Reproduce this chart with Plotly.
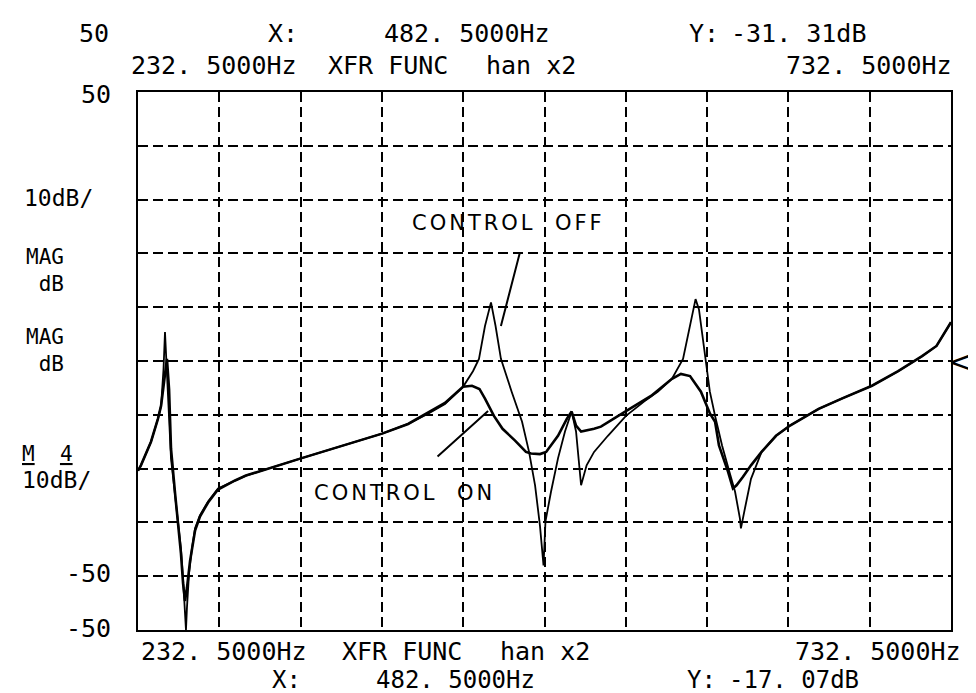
import plotly.graph_objects as go

# ---------------- data ----------------
freq_off = [232.5, 234.3, 240.5, 244.8, 246.7, 248.2, 249.1, 250.3, 251.6, 252.8,
            255.3, 257.1, 258.9, 260.2, 261.4, 262.0, 262.6, 263.9, 265.7, 267.6,
            270.6, 275.6, 281.7, 292.2, 298.9, 332.7, 357.3, 382.6, 398.6, 410.9,
            421.3, 432.4, 438.5, 442.2, 445.9, 449.6, 452.4, 455.7, 462.3, 468.7,
            473.0, 476.7, 479.7, 481.9, 483.1, 486.5, 490.8, 495.1, 499.2, 501.9,
            505.0, 508.4, 513.0, 521.5, 532.6, 543.5, 552.3, 560.9, 567.7, 572.0,
            575.4, 577.5, 580.8, 584.2, 587.4, 591.7, 596.2, 599.7, 602.7, 603.3,
            606.1, 609.5, 616.0, 624.9, 633.5, 651.1, 666.0, 683.9, 700.0, 714.7,
            723.6, 732.5]
mag_off = [-20.4, -19.4, -15.0, -10.7, -8.3, -1.5, 5.4, -2.4, -10.7, -18.1,
           -25.0, -29.8, -34.8, -40.4, -45.9, -50.0, -45.9, -39.4, -34.8, -31.1,
           -28.7, -26.1, -23.7, -22.2, -21.3, -18.1, -15.9, -13.5, -11.7, -9.8,
           -8.0, -4.8, -1.9, 0.4, 6.5, 10.9, 6.5, 0.4, -5.7, -11.3,
           -16.9, -23.1, -30.6, -38.0, -29.8, -24.3, -18.1, -13.1, -9.4, -13.1,
           -23.1, -19.4, -16.9, -13.9, -10.2, -7.6, -5.7, -3.3, 0.4, 6.5,
           11.5, 9.6, 1.7, -5.7, -10.2, -15.7, -20.6, -24.3, -29.3, -31.1,
           -26.9, -21.9, -16.9, -13.9, -12.0, -8.9, -6.9, -4.6, -1.9, 0.9,
           2.8, 7.2]

freq_on = [232.5, 234.3, 240.5, 244.8, 246.7, 248.5, 250.3, 251.6, 252.8, 255.3,
           257.1, 258.9, 260.2, 261.4, 262.6, 264.5, 267.6, 270.6, 275.6, 281.7,
           292.2, 298.9, 332.7, 357.3, 382.6, 398.6, 410.9, 421.3, 432.4, 437.9,
           442.5, 445.9, 451.4, 456.7, 464.4, 471.1, 474.2, 479.7, 483.5, 490.8,
           496.3, 499.2, 501.9, 505.0, 513.0, 517.2, 532.6, 548.0, 560.9, 566.4,
           572.0, 578.7, 584.3, 587.4, 589.8, 595.4, 598.4, 600.6, 604.6, 609.5,
           616.0, 624.9, 633.5, 651.1, 666.0, 683.9, 700.0, 714.7, 723.6, 732.5]
mag_on = [-20.4, -19.4, -15.0, -10.7, -8.3, -4.3, 0.4, -5.2, -16.3, -24.6,
          -29.6, -35.7, -41.3, -44.6, -42.2, -37.2, -31.5, -28.9, -26.3, -23.9,
          -22.2, -21.3, -18.1, -15.9, -13.5, -11.7, -9.6, -7.8, -4.8, -4.6,
          -5.2, -7.0, -10.2, -12.6, -14.8, -16.9, -17.2, -17.3, -16.9, -13.9,
          -10.7, -9.4, -12.0, -13.1, -12.6, -12.2, -9.3, -6.5, -3.3, -2.4,
          -2.8, -5.7, -9.8, -11.3, -15.7, -20.6, -23.7, -23.1, -21.5, -19.4,
          -16.9, -13.9, -12.0, -8.9, -6.9, -4.6, -1.9, 0.9, 2.8, 7.2]

f_start, f_stop, f_step = 232.5, 732.5, 50
db_top, db_bottom, db_step = 50, -50, 10

range_labels = ["232. 5000Hz", "XFR FUNC", "han x2", "732. 5000Hz"]
cursor_top = ["X:", "482. 5000Hz", "Y:", "-31. 31dB"]
cursor_bottom = ["X:", "482. 5000Hz", "Y:", "-17. 07dB"]
side_labels = ["10dB/", "MAG<br> dB", "MAG<br> dB",
               '<u>M</u>  <u>4</u><br><span style="font-size:23px">10dB/</span>']
curve_labels = ["CONTROL  OFF", "CONTROL  ON"]

# ---------------- figure ----------------
W, H = 976, 693
L, R, T, B = 130, 33, 84, 71
MONO = "DejaVu Sans Mono"
FS = 25
FS_SIDE = 21


def px(xp):
    return (xp - L) / (W - L - R)


def py(yp):
    return (H - B - yp) / (H - T - B)


fig = go.Figure()
fig.add_trace(go.Scatter(x=freq_off, y=mag_off, mode="lines", name="CONTROL OFF",
                         line=dict(color="black", width=1.8)))
fig.add_trace(go.Scatter(x=freq_on, y=mag_on, mode="lines", name="CONTROL ON",
                         line=dict(color="black", width=2.6)))

ann = []


def txt(s, xpx, ypx, anchor="left", size=FS, align="left"):
    ann.append(dict(text=s, x=px(xpx), y=py(ypx), xref="paper", yref="paper",
                    xanchor=anchor, yanchor="middle", showarrow=False, align=align,
                    font=dict(family=MONO, size=size, color="black")))


# header
txt(str(db_top), 103, 25, "right")
txt(cursor_top[0], 258, 25)
txt(cursor_top[1], 374, 25)
txt(cursor_top[2], 679, 25)
txt(cursor_top[3], 721, 25)
txt(range_labels[0], 121, 57)
txt(range_labels[1], 318, 57)
txt(range_labels[2], 476, 57)
txt(range_labels[3], 946, 57, "right")
# footer
txt(range_labels[0], 131, 643)
txt(range_labels[1], 332, 643)
txt(range_labels[2], 490, 643)
txt(range_labels[3], 955, 643, "right")
txt(cursor_bottom[0], 262, 672, size=24)
txt(cursor_bottom[1], 366, 672, size=24)
txt(cursor_bottom[2], 677, 672, size=24)
txt(cursor_bottom[3], 719, 672, size=24)
# left side
txt(str(db_top), 105, 86, "right")
txt(side_labels[0], 14, 190, size=23)
txt(side_labels[1], 16, 262, size=FS_SIDE)
txt(side_labels[2], 16, 342, size=FS_SIDE)
txt(side_labels[3], 12, 459, size=FS_SIDE)
txt(str(db_bottom), 105, 565, "right")
txt(str(db_bottom), 105, 620, "right")

# curve labels with leader lines
LBL = dict(family="DejaVu Sans", size=21, color="black")
ann.append(dict(text='<span style="letter-spacing:3px">' + curve_labels[0] + "</span>",
                x=460.5, y=25.7, xref="x", yref="y", showarrow=False, font=LBL))
ann.append(dict(text='<span style="letter-spacing:3px">' + curve_labels[1] + "</span>",
                x=396.5, y=-24.6, xref="x", yref="y", showarrow=False, font=LBL))
ann.append(dict(text="", x=455.7, y=6.5, ax=467.4, ay=20.2, xref="x", yref="y",
                axref="x", ayref="y", showarrow=True, arrowhead=0,
                arrowwidth=2, arrowcolor="black"))
ann.append(dict(text="", x=447.8, y=-9.3, ax=415.8, ay=-18.0, xref="x", yref="y",
                axref="x", ayref="y", showarrow=True, arrowhead=0,
                arrowwidth=2, arrowcolor="black"))
# reference level marker at right edge
ann.append(dict(text="<", x=f_stop, y=0, xref="x", yref="y", xanchor="left",
                yanchor="middle", showarrow=False, xshift=-5,
                font=dict(family="DejaVu Sans", size=30, color="black")))

fig.update_layout(
    width=W, height=H, margin=dict(l=L, r=R, t=T, b=B),
    paper_bgcolor="white", plot_bgcolor="white", showlegend=False,
    annotations=ann,
)
fig.update_xaxes(range=[f_start, f_stop], dtick=f_step, tick0=f_start,
                 showticklabels=False, ticks="", showgrid=True, gridcolor="black",
                 gridwidth=2, griddash="10px,5px", zeroline=False,
                 showline=True, linecolor="black", linewidth=2, mirror=True)
fig.update_yaxes(range=[db_bottom, db_top], dtick=db_step, tick0=db_bottom,
                 showticklabels=False, ticks="", showgrid=True, gridcolor="black",
                 gridwidth=2, griddash="10px,5px", zeroline=False,
                 showline=True, linecolor="black", linewidth=2, mirror=True)

fig.write_html("out.html")
